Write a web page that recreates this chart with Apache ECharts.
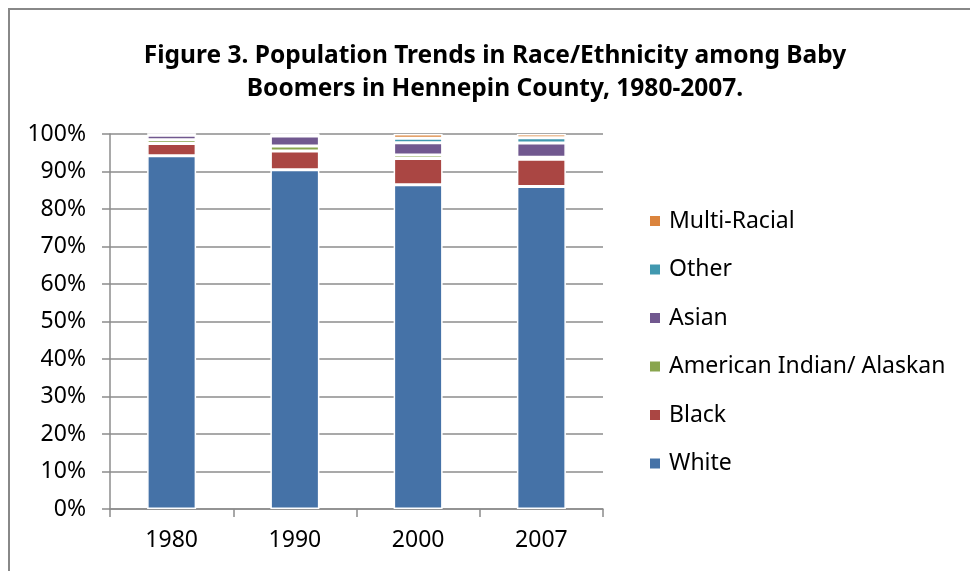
<!DOCTYPE html>
<html>
<head>
<meta charset="utf-8">
<script src="https://cdn.jsdelivr.net/npm/echarts@6/dist/echarts.min.js"></script>
<style>
  html, body { margin: 0; padding: 0; background: #fff; }
  #chart { width: 970px; height: 571px; }
</style>
</head>
<body>
<div id="chart"></div>
<script>
const years = ['1980', '1990', '2000', '2007']
const yTicks = [0, 10, 20, 30, 40, 50, 60, 70, 80, 90, 100]

// percent of boomers per group
const white = [94.2, 90.5, 86.5, 86.0]
const black = [3.3, 5.0, 7.0, 7.3]
const amIndian = [1.0, 1.3, 0.9, 0.5]
const asian = [1.2, 2.7, 3.3, 3.8]
const other = [0.3, 0.5, 1.2, 1.4]
const multi = [0, 0, 1.1, 1.0]

const groups = [
  { name: 'White', data: white, color: '#4572A7' },
  { name: 'Black', data: black, color: '#AA4643' },
  { name: 'American Indian/ Alaskan', data: amIndian, color: '#89A54E' },
  { name: 'Asian', data: asian, color: '#71588F' },
  { name: 'Other', data: other, color: '#4198AF' },
  { name: 'Multi-Racial', data: multi, color: '#DB843D' },
]

const font = '"Noto Sans", "Open Sans", sans-serif'
const gridColor = '#8c8c8c'

const chart = echarts.init(document.getElementById('chart'))

chart.setOption({
  animation: false,
  textStyle: { fontFamily: font },
  title: {
    text: 'Figure 3. Population Trends in Race/Ethnicity among Baby\nBoomers in Hennepin County, 1980-2007.',
    left: 490,
    top: 35,
    textAlign: 'center',
    textStyle: {
      fontFamily: font,
      fontSize: 24.5,
      fontWeight: 'bold',
      color: '#000',
      lineHeight: 33,
      align: 'center',
    },
  },
  graphic: [
    {
      type: 'rect',
      silent: true,
      shape: { x: 9, y: 9, width: 1000, height: 600 },
      style: { fill: 'none', stroke: '#888', lineWidth: 2 },
    },
  ],
  legend: {
    orient: 'vertical',
    left: 643,
    top: 204,
    itemWidth: 12,
    itemHeight: 12,
    itemGap: 24.5,
    icon: 'rect',
    data: groups.map((g) => g.name).reverse(),
    textStyle: { fontFamily: font, fontSize: 23, color: '#000', lineHeight: 24, padding: [0, 0, 0, 3] },
  },
  grid: { left: 110, right: 367, top: 134, bottom: 62 },
  xAxis: {
    type: 'category',
    data: years,
    axisLine: { lineStyle: { color: gridColor, width: 1.5 } },
    axisTick: { show: true, length: 8, lineStyle: { color: gridColor, width: 1.5 } },
    axisLabel: { fontFamily: font, fontSize: 23, color: '#000', margin: 20 },
  },
  yAxis: {
    type: 'value',
    min: 0,
    max: 100,
    interval: 10,
    axisLine: { show: true, lineStyle: { color: gridColor, width: 1.5 } },
    axisTick: { show: true, length: 8, lineStyle: { color: gridColor, width: 1.5 } },
    splitLine: { lineStyle: { color: gridColor, width: 1.5 } },
    axisLabel: {
      fontFamily: font,
      fontSize: 23,
      color: '#000',
      margin: 24,
      formatter: (v) => (yTicks.includes(v) ? v + '%' : ''),
    },
  },
  series: groups.map((g) => ({
    name: g.name,
    type: 'bar',
    stack: 'total',
    barWidth: 49,
    data: g.data,
    itemStyle: { color: g.color, borderColor: '#fff', borderWidth: 1.5 },
  })),
})
</script>
</body>
</html>
